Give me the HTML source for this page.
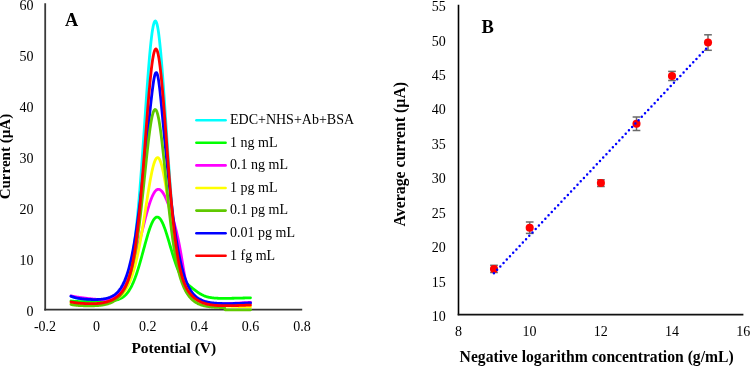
<!DOCTYPE html>
<html><head><meta charset="utf-8"><style>
html,body{margin:0;padding:0;background:#fff;}
svg{display:block;font-family:"Liberation Serif", serif;will-change:transform;}
text{fill:#000;}
</style></head><body>
<svg width="751" height="366" viewBox="0 0 751 366"><rect width="751" height="366" fill="#fff"/><line x1="45.2" y1="3.3" x2="45.2" y2="310.4" stroke="#3a3a3a" stroke-width="1.8"/><line x1="44.3" y1="309.6" x2="302.2" y2="309.6" stroke="#333" stroke-width="1.8"/><text x="33.4" y="316.10" font-size="14" text-anchor="end">0</text><text x="33.4" y="265.00" font-size="14" text-anchor="end">10</text><text x="33.4" y="213.90" font-size="14" text-anchor="end">20</text><text x="33.4" y="162.80" font-size="14" text-anchor="end">30</text><text x="33.4" y="111.70" font-size="14" text-anchor="end">40</text><text x="33.4" y="60.60" font-size="14" text-anchor="end">50</text><text x="33.4" y="9.50" font-size="14" text-anchor="end">60</text><text x="45.00" y="331.4" font-size="14" text-anchor="middle">-0.2</text><text x="96.40" y="331.4" font-size="14" text-anchor="middle">0</text><text x="147.80" y="331.4" font-size="14" text-anchor="middle">0.2</text><text x="199.20" y="331.4" font-size="14" text-anchor="middle">0.4</text><text x="250.60" y="331.4" font-size="14" text-anchor="middle">0.6</text><text x="302.00" y="331.4" font-size="14" text-anchor="middle">0.8</text><text x="131.4" y="352.7" font-size="15.5" font-weight="bold">Potential (V)</text><text transform="translate(10.3,199.3) rotate(-90)" font-size="15" font-weight="bold">Current (µA)</text><text x="64.95" y="25.5" font-size="18.3" font-weight="bold">A</text><polyline points="71.00,296.32 71.50,296.54 72.00,296.73 72.50,296.92 73.00,297.10 73.50,297.26 74.00,297.42 74.50,297.57 75.00,297.70 75.50,297.84 76.00,297.96 76.50,298.08 77.00,298.19 77.50,298.30 78.00,298.40 78.50,298.50 79.00,298.59 79.50,298.68 80.00,298.77 80.50,298.85 81.00,298.93 81.50,299.01 82.00,299.08 82.50,299.15 83.00,299.22 83.50,299.28 84.00,299.35 84.50,299.41 85.00,299.47 85.50,299.53 86.00,299.58 86.50,299.63 87.00,299.69 87.50,299.74 88.00,299.79 88.50,299.83 89.00,299.88 89.50,299.92 90.00,299.96 90.50,300.00 91.00,300.04 91.50,300.08 92.00,300.11 92.50,300.15 93.00,300.18 93.50,300.21 94.00,300.23 94.50,300.26 95.00,300.28 95.50,300.30 96.00,300.32 96.50,300.34 97.00,300.35 97.50,300.36 98.00,300.36 98.50,300.37 99.00,300.37 99.50,300.36 100.00,300.36 100.50,300.35 101.00,300.33 101.50,300.31 102.00,300.28 102.50,300.25 103.00,300.22 103.50,300.18 104.00,300.13 104.50,300.08 105.00,300.02 105.50,299.95 106.00,299.88 106.50,299.79 107.00,299.70 107.50,299.60 108.00,299.50 108.50,299.38 109.00,299.25 109.50,299.11 110.00,298.96 110.50,298.80 111.00,298.63 111.50,298.44 112.00,298.24 112.50,298.03 113.00,297.80 113.50,297.55 114.00,297.29 114.50,297.01 115.00,296.71 115.50,296.39 116.00,296.06 116.50,295.70 117.00,295.31 117.50,294.91 118.00,294.47 118.50,294.01 119.00,293.52 119.50,293.00 120.00,292.44 120.50,291.85 121.00,291.22 121.50,290.55 122.00,289.83 122.50,289.07 123.00,288.26 123.50,287.39 124.00,286.47 124.50,285.48 125.00,284.42 125.50,283.29 126.00,282.08 126.50,280.79 127.00,279.41 127.50,277.93 128.00,276.34 128.50,274.65 129.00,272.83 129.50,270.90 130.00,268.82 130.50,266.60 131.00,264.24 131.50,261.71 132.00,259.02 132.50,256.14 133.00,253.09 133.50,249.84 134.00,246.39 134.50,242.73 135.00,238.87 135.50,234.78 136.00,230.46 136.50,225.92 137.00,221.15 137.50,216.15 138.00,210.92 138.50,205.46 139.00,199.77 139.50,193.86 140.00,187.75 140.50,181.42 141.00,174.91 141.50,168.23 142.00,161.38 142.50,154.40 143.00,147.29 143.50,140.09 144.00,132.82 144.50,125.50 145.00,118.17 145.50,110.87 146.00,103.61 146.50,96.43 147.00,89.38 147.50,82.49 148.00,75.78 148.50,69.31 149.00,63.11 149.50,57.21 150.00,51.65 150.50,46.46 151.00,41.67 151.50,37.32 152.00,33.44 152.50,30.04 153.00,27.16 153.50,24.81 154.00,23.01 154.50,21.76 155.00,21.09 155.50,21.00 156.00,21.48 156.50,22.54 157.00,24.16 157.50,26.35 158.00,29.08 158.50,32.33 159.00,36.09 159.50,40.33 160.00,45.03 160.50,50.16 161.00,55.68 161.50,61.56 162.00,67.77 162.50,74.27 163.00,81.03 163.50,88.00 164.00,95.16 164.50,102.46 165.00,109.86 165.50,117.34 166.00,124.85 166.50,132.37 167.00,139.85 167.50,147.29 168.00,154.63 168.50,161.87 169.00,168.97 169.50,175.92 170.00,182.70 170.50,189.29 171.00,195.67 171.50,201.84 172.00,207.79 172.50,213.51 173.00,218.99 173.50,224.22 174.00,229.22 174.50,233.98 175.00,238.50 175.50,242.78 176.00,246.83 176.50,250.65 177.00,254.25 177.50,257.64 178.00,260.82 178.50,263.80 179.00,266.59 179.50,269.20 180.00,271.64 180.50,273.91 181.00,276.03 181.50,278.01 182.00,279.84 182.50,281.55 183.00,283.14 183.50,284.62 184.00,285.99 184.50,287.26 185.00,288.44 185.50,289.54 186.00,290.56 186.50,291.50 187.00,292.38 187.50,293.20 188.00,293.96 188.50,294.67 189.00,295.33 189.50,295.94 190.00,296.51 190.50,297.04 191.00,297.54 191.50,298.00 192.00,298.43 192.50,298.84 193.00,299.21 193.50,299.56 194.00,299.89 194.50,300.20 195.00,300.49 195.50,300.76 196.00,301.01 196.50,301.25 197.00,301.47 197.50,301.67 198.00,301.86 198.50,302.04 199.00,302.21 199.50,302.37 200.00,302.52 200.50,302.65 201.00,302.78 201.50,302.90 202.00,303.01 202.50,303.11 203.00,303.21 203.50,303.29 204.00,303.38 204.50,303.45 205.00,303.52 205.50,303.59 206.00,303.64 206.50,303.70 207.00,303.75 207.50,303.79 208.00,303.84 208.50,303.87 209.00,303.91 209.50,303.94 210.00,303.97 210.50,303.99 211.00,304.01 211.50,304.03 212.00,304.05 212.50,304.06 213.00,304.08 213.50,304.09 214.00,304.09 214.50,304.10 215.00,304.11 215.50,304.11 216.00,304.11 216.50,304.11 217.00,304.11 217.50,304.11 218.00,304.11 218.50,304.11 219.00,304.10 219.50,304.10 220.00,304.09 220.50,304.08 221.00,304.08 221.50,304.07 222.00,304.06 222.50,304.05 223.00,304.04 223.50,304.03 224.00,304.01 224.50,304.00 225.00,303.99 225.50,303.98 226.00,303.96 226.50,303.95 227.00,303.94 227.50,303.92 228.00,303.91 228.50,303.89 229.00,303.87 229.50,303.86 230.00,303.84 230.50,303.83 231.00,303.81 231.50,303.79 232.00,303.77 232.50,303.76 233.00,303.74 233.50,303.72 234.00,303.70 234.50,303.68 235.00,303.66 235.50,303.64 236.00,303.62 236.50,303.60 237.00,303.58 237.50,303.56 238.00,303.54 238.50,303.52 239.00,303.50 239.50,303.48 240.00,303.46 240.50,303.44 241.00,303.41 241.50,303.39 242.00,303.37 242.50,303.35 243.00,303.32 243.50,303.30 244.00,303.28 244.50,303.25 245.00,303.23 245.50,303.21 246.00,303.18 246.50,303.16 247.00,303.13 247.50,303.11 248.00,303.08 248.50,303.06 249.00,303.03 249.50,303.01 250.00,302.98 250.50,302.95" fill="none" stroke="#00FFFF" stroke-width="2.8" stroke-linejoin="round" stroke-linecap="round"/><polyline points="71.00,300.96 71.50,301.03 72.00,301.09 72.50,301.15 73.00,301.21 73.50,301.25 74.00,301.30 74.50,301.34 75.00,301.37 75.50,301.40 76.00,301.43 76.50,301.46 77.00,301.48 77.50,301.50 78.00,301.52 78.50,301.54 79.00,301.55 79.50,301.56 80.00,301.57 80.50,301.58 81.00,301.59 81.50,301.59 82.00,301.60 82.50,301.60 83.00,301.60 83.50,301.60 84.00,301.60 84.50,301.60 85.00,301.60 85.50,301.60 86.00,301.60 86.50,301.60 87.00,301.59 87.50,301.59 88.00,301.58 88.50,301.58 89.00,301.57 89.50,301.57 90.00,301.56 90.50,301.55 91.00,301.55 91.50,301.54 92.00,301.53 92.50,301.53 93.00,301.52 93.50,301.51 94.00,301.50 94.50,301.49 95.00,301.48 95.50,301.48 96.00,301.47 96.50,301.46 97.00,301.45 97.50,301.44 98.00,301.43 98.50,301.42 99.00,301.41 99.50,301.39 100.00,301.38 100.50,301.37 101.00,301.36 101.50,301.34 102.00,301.33 102.50,301.32 103.00,301.30 103.50,301.29 104.00,301.27 104.50,301.25 105.00,301.23 105.50,301.21 106.00,301.19 106.50,301.17 107.00,301.15 107.50,301.12 108.00,301.09 108.50,301.06 109.00,301.03 109.50,300.99 110.00,300.95 110.50,300.91 111.00,300.86 111.50,300.81 112.00,300.76 112.50,300.70 113.00,300.64 113.50,300.57 114.00,300.49 114.50,300.40 115.00,300.31 115.50,300.21 116.00,300.10 116.50,299.98 117.00,299.86 117.50,299.71 118.00,299.56 118.50,299.39 119.00,299.21 119.50,299.02 120.00,298.80 120.50,298.57 121.00,298.32 121.50,298.05 122.00,297.76 122.50,297.45 123.00,297.11 123.50,296.75 124.00,296.36 124.50,295.94 125.00,295.49 125.50,295.01 126.00,294.50 126.50,293.95 127.00,293.37 127.50,292.75 128.00,292.09 128.50,291.39 129.00,290.65 129.50,289.86 130.00,289.03 130.50,288.16 131.00,287.24 131.50,286.28 132.00,285.27 132.50,284.20 133.00,283.09 133.50,281.93 134.00,280.73 134.50,279.47 135.00,278.16 135.50,276.81 136.00,275.41 136.50,273.96 137.00,272.46 137.50,270.93 138.00,269.35 138.50,267.73 139.00,266.07 139.50,264.38 140.00,262.65 140.50,260.90 141.00,259.12 141.50,257.32 142.00,255.50 142.50,253.66 143.00,251.82 143.50,249.97 144.00,248.12 144.50,246.28 145.00,244.44 145.50,242.63 146.00,240.83 146.50,239.06 147.00,237.32 147.50,235.62 148.00,233.96 148.50,232.35 149.00,230.79 149.50,229.29 150.00,227.86 150.50,226.50 151.00,225.21 151.50,224.01 152.00,222.88 152.50,221.85 153.00,220.91 153.50,220.06 154.00,219.31 154.50,218.67 155.00,218.13 155.50,217.69 156.00,217.37 156.50,217.15 157.00,217.04 157.50,217.05 158.00,217.16 158.50,217.38 159.00,217.71 159.50,218.15 160.00,218.69 160.50,219.33 161.00,220.07 161.50,220.91 162.00,221.84 162.50,222.86 163.00,223.96 163.50,225.14 164.00,226.40 164.50,227.73 165.00,229.12 165.50,230.57 166.00,232.07 166.50,233.62 167.00,235.21 167.50,236.84 168.00,238.49 168.50,240.17 169.00,241.87 169.50,243.58 170.00,245.29 170.50,247.01 171.00,248.72 171.50,250.42 172.00,252.11 172.50,253.78 173.00,255.42 173.50,257.04 174.00,258.62 174.50,260.17 175.00,261.67 175.50,263.14 176.00,264.56 176.50,265.93 177.00,267.25 177.50,268.52 178.00,269.75 178.50,270.91 179.00,272.03 179.50,273.09 180.00,274.10 180.50,275.06 181.00,275.97 181.50,276.82 182.00,277.63 182.50,278.40 183.00,279.12 183.50,279.80 184.00,280.44 184.50,281.05 185.00,281.62 185.50,282.17 186.00,282.69 186.50,283.18 187.00,283.66 187.50,284.12 188.00,284.56 188.50,285.00 189.00,285.42 189.50,285.83 190.00,286.24 190.50,286.65 191.00,287.05 191.50,287.45 192.00,287.84 192.50,288.24 193.00,288.63 193.50,289.03 194.00,289.42 194.50,289.81 195.00,290.19 195.50,290.57 196.00,290.95 196.50,291.32 197.00,291.69 197.50,292.05 198.00,292.40 198.50,292.74 199.00,293.07 199.50,293.39 200.00,293.70 200.50,294.00 201.00,294.29 201.50,294.57 202.00,294.83 202.50,295.08 203.00,295.32 203.50,295.55 204.00,295.76 204.50,295.96 205.00,296.15 205.50,296.33 206.00,296.50 206.50,296.66 207.00,296.80 207.50,296.94 208.00,297.07 208.50,297.19 209.00,297.30 209.50,297.40 210.00,297.49 210.50,297.58 211.00,297.66 211.50,297.73 212.00,297.80 212.50,297.86 213.00,297.92 213.50,297.97 214.00,298.02 214.50,298.06 215.00,298.10 215.50,298.14 216.00,298.17 216.50,298.20 217.00,298.22 217.50,298.24 218.00,298.26 218.50,298.28 219.00,298.30 219.50,298.31 220.00,298.32 220.50,298.33 221.00,298.34 221.50,298.35 222.00,298.35 222.50,298.35 223.00,298.36 223.50,298.36 224.00,298.36 224.50,298.36 225.00,298.36 225.50,298.35 226.00,298.35 226.50,298.35 227.00,298.34 227.50,298.34 228.00,298.33 228.50,298.32 229.00,298.32 229.50,298.31 230.00,298.30 230.50,298.29 231.00,298.29 231.50,298.28 232.00,298.27 232.50,298.26 233.00,298.25 233.50,298.24 234.00,298.23 234.50,298.22 235.00,298.21 235.50,298.20 236.00,298.19 236.50,298.17 237.00,298.16 237.50,298.15 238.00,298.14 238.50,298.13 239.00,298.12 239.50,298.10 240.00,298.09 240.50,298.08 241.00,298.07 241.50,298.05 242.00,298.04 242.50,298.03 243.00,298.02 243.50,298.00 244.00,297.99 244.50,297.98 245.00,297.97 245.50,297.95 246.00,297.94 246.50,297.93 247.00,297.91 247.50,297.90 248.00,297.89 248.50,297.87 249.00,297.86 249.50,297.85 250.00,297.83 250.50,297.82" fill="none" stroke="#00FF00" stroke-width="2.8" stroke-linejoin="round" stroke-linecap="round"/><polyline points="71.00,295.86 71.50,295.98 72.00,296.09 72.50,296.19 73.00,296.29 73.50,296.39 74.00,296.49 74.50,296.58 75.00,296.67 75.50,296.76 76.00,296.85 76.50,296.93 77.00,297.01 77.50,297.09 78.00,297.17 78.50,297.25 79.00,297.32 79.50,297.40 80.00,297.47 80.50,297.54 81.00,297.61 81.50,297.68 82.00,297.75 82.50,297.81 83.00,297.88 83.50,297.94 84.00,298.01 84.50,298.07 85.00,298.13 85.50,298.19 86.00,298.25 86.50,298.31 87.00,298.37 87.50,298.43 88.00,298.49 88.50,298.55 89.00,298.60 89.50,298.66 90.00,298.71 90.50,298.76 91.00,298.82 91.50,298.87 92.00,298.92 92.50,298.97 93.00,299.02 93.50,299.06 94.00,299.11 94.50,299.16 95.00,299.20 95.50,299.24 96.00,299.28 96.50,299.32 97.00,299.36 97.50,299.39 98.00,299.42 98.50,299.45 99.00,299.48 99.50,299.51 100.00,299.53 100.50,299.55 101.00,299.56 101.50,299.58 102.00,299.58 102.50,299.59 103.00,299.59 103.50,299.58 104.00,299.57 104.50,299.56 105.00,299.54 105.50,299.51 106.00,299.47 106.50,299.43 107.00,299.38 107.50,299.32 108.00,299.26 108.50,299.18 109.00,299.09 109.50,299.00 110.00,298.89 110.50,298.77 111.00,298.63 111.50,298.49 112.00,298.32 112.50,298.15 113.00,297.95 113.50,297.74 114.00,297.51 114.50,297.26 115.00,297.00 115.50,296.71 116.00,296.40 116.50,296.06 117.00,295.71 117.50,295.32 118.00,294.91 118.50,294.48 119.00,294.01 119.50,293.52 120.00,292.99 120.50,292.43 121.00,291.84 121.50,291.22 122.00,290.56 122.50,289.87 123.00,289.13 123.50,288.36 124.00,287.55 124.50,286.70 125.00,285.81 125.50,284.88 126.00,283.91 126.50,282.89 127.00,281.83 127.50,280.72 128.00,279.58 128.50,278.38 129.00,277.14 129.50,275.86 130.00,274.53 130.50,273.15 131.00,271.73 131.50,270.27 132.00,268.76 132.50,267.21 133.00,265.62 133.50,263.99 134.00,262.32 134.50,260.60 135.00,258.85 135.50,257.07 136.00,255.25 136.50,253.40 137.00,251.52 137.50,249.61 138.00,247.68 138.50,245.72 139.00,243.74 139.50,241.75 140.00,239.74 140.50,237.73 141.00,235.70 141.50,233.67 142.00,231.64 142.50,229.62 143.00,227.60 143.50,225.59 144.00,223.60 144.50,221.62 145.00,219.67 145.50,217.74 146.00,215.85 146.50,213.99 147.00,212.17 147.50,210.39 148.00,208.66 148.50,206.99 149.00,205.36 149.50,203.80 150.00,202.30 150.50,200.86 151.00,199.50 151.50,198.21 152.00,196.99 152.50,195.86 153.00,194.80 153.50,193.84 154.00,192.96 154.50,192.17 155.00,191.47 155.50,190.87 156.00,190.36 156.50,189.95 157.00,189.64 157.50,189.43 158.00,189.32 158.50,189.31 159.00,189.38 159.50,189.54 160.00,189.78 160.50,190.10 161.00,190.50 161.50,190.98 162.00,191.54 162.50,192.17 163.00,192.88 163.50,193.66 164.00,194.51 164.50,195.43 165.00,196.42 165.50,197.47 166.00,198.58 166.50,199.74 167.00,200.96 167.50,202.23 168.00,203.55 168.50,204.92 169.00,206.32 169.50,207.77 170.00,209.26 170.50,210.79 171.00,212.35 171.50,213.94 172.00,215.57 172.50,217.23 173.00,218.92 173.50,220.65 174.00,222.41 174.50,224.22 175.00,226.07 175.50,227.97 176.00,229.93 176.50,231.95 177.00,234.04 177.50,236.20 178.00,238.45 178.50,240.79 179.00,243.24 179.50,245.78 180.00,248.43 180.50,251.18 181.00,254.03 181.50,256.96 182.00,259.95 182.50,262.98 183.00,266.02 183.50,269.02 184.00,271.96 184.50,274.77 185.00,277.43 185.50,279.90 186.00,282.15 186.50,284.16 187.00,285.94 187.50,287.48 188.00,288.83 188.50,289.99 189.00,291.00 189.50,291.91 190.00,292.72 190.50,293.46 191.00,294.15 191.50,294.80 192.00,295.41 192.50,295.99 193.00,296.54 193.50,297.06 194.00,297.55 194.50,298.01 195.00,298.45 195.50,298.86 196.00,299.25 196.50,299.61 197.00,299.95 197.50,300.27 198.00,300.57 198.50,300.85 199.00,301.11 199.50,301.36 200.00,301.58 200.50,301.79 201.00,301.99 201.50,302.17 202.00,302.34 202.50,302.49 203.00,302.63 203.50,302.77 204.00,302.89 204.50,303.00 205.00,303.10 205.50,303.19 206.00,303.27 206.50,303.35 207.00,303.42 207.50,303.48 208.00,303.54 208.50,303.59 209.00,303.63 209.50,303.67 210.00,303.71 210.50,303.74 211.00,303.77 211.50,303.79 212.00,303.81 212.50,303.83 213.00,303.84 213.50,303.85 214.00,303.86 214.50,303.86 215.00,303.87 215.50,303.87 216.00,303.87 216.50,303.87 217.00,303.87 217.50,303.86 218.00,303.86 218.50,303.85 219.00,303.84 219.50,303.83 220.00,303.82 220.50,303.81 221.00,303.80 221.50,303.79 222.00,303.77 222.50,303.76 223.00,303.74 223.50,303.73 224.00,303.71 224.50,303.70 225.00,303.68 225.50,303.66 226.00,303.64 226.50,303.62 227.00,303.61 227.50,303.59 228.00,303.57 228.50,303.55 229.00,303.53 229.50,303.51 230.00,303.48 230.50,303.46 231.00,303.44 231.50,303.42 232.00,303.40 232.50,303.37 233.00,303.35 233.50,303.33 234.00,303.30 234.50,303.28 235.00,303.26 235.50,303.23 236.00,303.21 236.50,303.18 237.00,303.16 237.50,303.13 238.00,303.11 238.50,303.08 239.00,303.05 239.50,303.03 240.00,303.00 240.50,302.97 241.00,302.94 241.50,302.92 242.00,302.89 242.50,302.86 243.00,302.83 243.50,302.80 244.00,302.77 244.50,302.74 245.00,302.71 245.50,302.68 246.00,302.65 246.50,302.62 247.00,302.59 247.50,302.56 248.00,302.53 248.50,302.50 249.00,302.46 249.50,302.43 250.00,302.40 250.50,302.37" fill="none" stroke="#FF00FF" stroke-width="2.8" stroke-linejoin="round" stroke-linecap="round"/><polyline points="71.00,303.21 71.50,303.33 72.00,303.43 72.50,303.53 73.00,303.62 73.50,303.69 74.00,303.77 74.50,303.83 75.00,303.89 75.50,303.95 76.00,304.00 76.50,304.04 77.00,304.08 77.50,304.12 78.00,304.15 78.50,304.18 79.00,304.21 79.50,304.23 80.00,304.25 80.50,304.27 81.00,304.28 81.50,304.29 82.00,304.31 82.50,304.31 83.00,304.32 83.50,304.32 84.00,304.33 84.50,304.33 85.00,304.33 85.50,304.33 86.00,304.32 86.50,304.32 87.00,304.31 87.50,304.30 88.00,304.29 88.50,304.28 89.00,304.27 89.50,304.26 90.00,304.24 90.50,304.23 91.00,304.21 91.50,304.19 92.00,304.17 92.50,304.15 93.00,304.13 93.50,304.10 94.00,304.08 94.50,304.05 95.00,304.02 95.50,303.99 96.00,303.96 96.50,303.92 97.00,303.89 97.50,303.85 98.00,303.81 98.50,303.77 99.00,303.72 99.50,303.67 100.00,303.62 100.50,303.57 101.00,303.52 101.50,303.46 102.00,303.40 102.50,303.33 103.00,303.26 103.50,303.19 104.00,303.11 104.50,303.03 105.00,302.95 105.50,302.86 106.00,302.77 106.50,302.67 107.00,302.57 107.50,302.46 108.00,302.34 108.50,302.22 109.00,302.09 109.50,301.96 110.00,301.81 110.50,301.66 111.00,301.50 111.50,301.34 112.00,301.16 112.50,300.97 113.00,300.78 113.50,300.57 114.00,300.35 114.50,300.12 115.00,299.88 115.50,299.62 116.00,299.35 116.50,299.06 117.00,298.76 117.50,298.44 118.00,298.10 118.50,297.74 119.00,297.37 119.50,296.97 120.00,296.55 120.50,296.11 121.00,295.64 121.50,295.15 122.00,294.63 122.50,294.08 123.00,293.50 123.50,292.89 124.00,292.25 124.50,291.57 125.00,290.86 125.50,290.10 126.00,289.31 126.50,288.48 127.00,287.60 127.50,286.67 128.00,285.70 128.50,284.67 129.00,283.60 129.50,282.47 130.00,281.28 130.50,280.03 131.00,278.72 131.50,277.35 132.00,275.92 132.50,274.41 133.00,272.84 133.50,271.20 134.00,269.48 134.50,267.69 135.00,265.82 135.50,263.87 136.00,261.85 136.50,259.74 137.00,257.56 137.50,255.29 138.00,252.94 138.50,250.52 139.00,248.01 139.50,245.42 140.00,242.76 140.50,240.02 141.00,237.22 141.50,234.34 142.00,231.40 142.50,228.40 143.00,225.35 143.50,222.25 144.00,219.11 144.50,215.93 145.00,212.73 145.50,209.51 146.00,206.29 146.50,203.07 147.00,199.86 147.50,196.68 148.00,193.54 148.50,190.44 149.00,187.41 149.50,184.46 150.00,181.59 150.50,178.83 151.00,176.18 151.50,173.67 152.00,171.29 152.50,169.07 153.00,167.02 153.50,165.14 154.00,163.46 154.50,161.97 155.00,160.68 155.50,159.62 156.00,158.77 156.50,158.15 157.00,157.76 157.50,157.60 158.00,157.68 158.50,158.00 159.00,158.56 159.50,159.35 160.00,160.37 160.50,161.62 161.00,163.08 161.50,164.75 162.00,166.62 162.50,168.68 163.00,170.91 163.50,173.31 164.00,175.86 164.50,178.55 165.00,181.37 165.50,184.29 166.00,187.31 166.50,190.42 167.00,193.59 167.50,196.82 168.00,200.09 168.50,203.39 169.00,206.71 169.50,210.04 170.00,213.36 170.50,216.66 171.00,219.94 171.50,223.19 172.00,226.39 172.50,229.55 173.00,232.65 173.50,235.69 174.00,238.66 174.50,241.56 175.00,244.38 175.50,247.13 176.00,249.79 176.50,252.37 177.00,254.87 177.50,257.29 178.00,259.61 178.50,261.85 179.00,264.01 179.50,266.08 180.00,268.07 180.50,269.98 181.00,271.80 181.50,273.55 182.00,275.21 182.50,276.81 183.00,278.33 183.50,279.77 184.00,281.15 184.50,282.47 185.00,283.72 185.50,284.90 186.00,286.03 186.50,287.10 187.00,288.12 187.50,289.08 188.00,289.99 188.50,290.86 189.00,291.68 189.50,292.46 190.00,293.19 190.50,293.89 191.00,294.54 191.50,295.17 192.00,295.76 192.50,296.31 193.00,296.84 193.50,297.34 194.00,297.81 194.50,298.25 195.00,298.67 195.50,299.07 196.00,299.44 196.50,299.80 197.00,300.13 197.50,300.45 198.00,300.75 198.50,301.03 199.00,301.30 199.50,301.55 200.00,301.79 200.50,302.02 201.00,302.23 201.50,302.43 202.00,302.62 202.50,302.80 203.00,302.97 203.50,303.14 204.00,303.29 204.50,303.44 205.00,303.57 205.50,303.70 206.00,303.83 206.50,303.95 207.00,304.06 207.50,304.16 208.00,304.26 208.50,304.36 209.00,304.45 209.50,304.54 210.00,304.62 210.50,304.70 211.00,304.77 211.50,304.84 212.00,304.91 212.50,304.98 213.00,305.04 213.50,305.10 214.00,305.15 214.50,305.21 215.00,305.26 215.50,305.31 216.00,305.36 216.50,305.40 217.00,305.44 217.50,305.49 218.00,305.53 218.50,305.57 219.00,305.60 219.50,305.64 220.00,305.67 220.50,305.71 221.00,305.74 221.50,305.77 222.00,305.80 222.50,305.83 223.00,305.86 223.50,305.89 224.00,305.91 224.50,305.94 225.00,305.96 225.50,305.99 226.00,306.01 226.50,306.04 227.00,306.06 227.50,306.08 228.00,306.10 228.50,306.12 229.00,306.15 229.50,306.17 230.00,306.19 230.50,306.21 231.00,306.22 231.50,306.24 232.00,306.26 232.50,306.28 233.00,306.30 233.50,306.32 234.00,306.33 234.50,306.35 235.00,306.37 235.50,306.39 236.00,306.40 236.50,306.42 237.00,306.43 237.50,306.45 238.00,306.47 238.50,306.48 239.00,306.50 239.50,306.51 240.00,306.53 240.50,306.55 241.00,306.56 241.50,306.58 242.00,306.59 242.50,306.61 243.00,306.62 243.50,306.64 244.00,306.65 244.50,306.67 245.00,306.68 245.50,306.69 246.00,306.71 246.50,306.72 247.00,306.74 247.50,306.75 248.00,306.77 248.50,306.78 249.00,306.80 249.50,306.81 250.00,306.82 250.50,306.84" fill="none" stroke="#FFFF00" stroke-width="2.8" stroke-linejoin="round" stroke-linecap="round"/><polyline points="71.00,296.20 71.50,296.41 72.00,296.60 72.50,296.78 73.00,296.95 73.50,297.11 74.00,297.26 74.50,297.40 75.00,297.54 75.50,297.66 76.00,297.78 76.50,297.89 77.00,298.00 77.50,298.10 78.00,298.19 78.50,298.28 79.00,298.37 79.50,298.45 80.00,298.52 80.50,298.60 81.00,298.67 81.50,298.73 82.00,298.79 82.50,298.85 83.00,298.91 83.50,298.96 84.00,299.02 84.50,299.06 85.00,299.11 85.50,299.15 86.00,299.20 86.50,299.23 87.00,299.27 87.50,299.31 88.00,299.34 88.50,299.37 89.00,299.40 89.50,299.42 90.00,299.45 90.50,299.47 91.00,299.49 91.50,299.51 92.00,299.52 92.50,299.53 93.00,299.54 93.50,299.55 94.00,299.55 94.50,299.56 95.00,299.56 95.50,299.55 96.00,299.55 96.50,299.54 97.00,299.52 97.50,299.51 98.00,299.49 98.50,299.46 99.00,299.44 99.50,299.40 100.00,299.37 100.50,299.33 101.00,299.28 101.50,299.23 102.00,299.18 102.50,299.12 103.00,299.05 103.50,298.97 104.00,298.89 104.50,298.81 105.00,298.71 105.50,298.61 106.00,298.50 106.50,298.38 107.00,298.26 107.50,298.12 108.00,297.97 108.50,297.81 109.00,297.64 109.50,297.46 110.00,297.27 110.50,297.06 111.00,296.84 111.50,296.60 112.00,296.35 112.50,296.08 113.00,295.79 113.50,295.48 114.00,295.16 114.50,294.81 115.00,294.44 115.50,294.05 116.00,293.63 116.50,293.18 117.00,292.71 117.50,292.21 118.00,291.68 118.50,291.11 119.00,290.51 119.50,289.88 120.00,289.20 120.50,288.49 121.00,287.73 121.50,286.93 122.00,286.09 122.50,285.19 123.00,284.24 123.50,283.24 124.00,282.18 124.50,281.06 125.00,279.87 125.50,278.63 126.00,277.31 126.50,275.92 127.00,274.46 127.50,272.92 128.00,271.30 128.50,269.60 129.00,267.81 129.50,265.93 130.00,263.96 130.50,261.89 131.00,259.72 131.50,257.45 132.00,255.08 132.50,252.61 133.00,250.02 133.50,247.32 134.00,244.51 134.50,241.59 135.00,238.56 135.50,235.41 136.00,232.14 136.50,228.77 137.00,225.28 137.50,221.68 138.00,217.97 138.50,214.16 139.00,210.24 139.50,206.23 140.00,202.13 140.50,197.94 141.00,193.68 141.50,189.34 142.00,184.94 142.50,180.48 143.00,175.98 143.50,171.43 144.00,166.85 144.50,162.25 145.00,157.62 145.50,152.97 146.00,148.32 146.50,143.65 147.00,138.97 147.50,134.28 148.00,129.59 148.50,124.89 149.00,120.19 149.50,115.50 150.00,110.84 150.50,106.22 151.00,101.68 151.50,97.26 152.00,93.00 152.50,88.96 153.00,85.20 153.50,81.80 154.00,78.83 154.50,76.36 155.00,74.45 155.50,73.16 156.00,72.54 156.50,72.62 157.00,73.41 157.50,74.89 158.00,77.05 158.50,79.84 159.00,83.21 159.50,87.08 160.00,91.38 160.50,96.03 161.00,100.96 161.50,106.09 162.00,111.35 162.50,116.70 163.00,122.07 163.50,127.45 164.00,132.78 164.50,138.07 165.00,143.29 165.50,148.44 166.00,153.51 166.50,158.51 167.00,163.43 167.50,168.27 168.00,173.04 168.50,177.74 169.00,182.36 169.50,186.91 170.00,191.38 170.50,195.77 171.00,200.07 171.50,204.28 172.00,208.40 172.50,212.42 173.00,216.35 173.50,220.16 174.00,223.87 174.50,227.47 175.00,230.96 175.50,234.33 176.00,237.59 176.50,240.74 177.00,243.77 177.50,246.69 178.00,249.49 178.50,252.19 179.00,254.77 179.50,257.25 180.00,259.62 180.50,261.88 181.00,264.05 181.50,266.12 182.00,268.09 182.50,269.98 183.00,271.77 183.50,273.48 184.00,275.10 184.50,276.65 185.00,278.12 185.50,279.52 186.00,280.84 186.50,282.10 187.00,283.29 187.50,284.42 188.00,285.50 188.50,286.51 189.00,287.48 189.50,288.39 190.00,289.25 190.50,290.07 191.00,290.84 191.50,291.58 192.00,292.27 192.50,292.92 193.00,293.54 193.50,294.13 194.00,294.68 194.50,295.20 195.00,295.70 195.50,296.16 196.00,296.60 196.50,297.02 197.00,297.41 197.50,297.78 198.00,298.14 198.50,298.47 199.00,298.78 199.50,299.07 200.00,299.35 200.50,299.62 201.00,299.86 201.50,300.10 202.00,300.32 202.50,300.53 203.00,300.72 203.50,300.91 204.00,301.09 204.50,301.25 205.00,301.41 205.50,301.55 206.00,301.69 206.50,301.82 207.00,301.94 207.50,302.06 208.00,302.17 208.50,302.27 209.00,302.37 209.50,302.46 210.00,302.54 210.50,302.62 211.00,302.70 211.50,302.77 212.00,302.84 212.50,302.90 213.00,302.96 213.50,303.01 214.00,303.06 214.50,303.11 215.00,303.15 215.50,303.20 216.00,303.23 216.50,303.27 217.00,303.30 217.50,303.33 218.00,303.36 218.50,303.39 219.00,303.41 219.50,303.43 220.00,303.45 220.50,303.47 221.00,303.49 221.50,303.50 222.00,303.52 222.50,303.53 223.00,303.54 223.50,303.55 224.00,303.56 224.50,303.56 225.00,303.57 225.50,303.57 226.00,303.57 226.50,303.58 227.00,303.58 227.50,303.58 228.00,303.57 228.50,303.57 229.00,303.57 229.50,303.57 230.00,303.56 230.50,303.56 231.00,303.55 231.50,303.54 232.00,303.53 232.50,303.53 233.00,303.52 233.50,303.51 234.00,303.50 234.50,303.49 235.00,303.47 235.50,303.46 236.00,303.45 236.50,303.44 237.00,303.42 237.50,303.41 238.00,303.39 238.50,303.38 239.00,303.36 239.50,303.35 240.00,303.33 240.50,303.31 241.00,303.30 241.50,303.28 242.00,303.26 242.50,303.24 243.00,303.22 243.50,303.20 244.00,303.18 244.50,303.16 245.00,303.14 245.50,303.12 246.00,303.10 246.50,303.08 247.00,303.06 247.50,303.03 248.00,303.01 248.50,302.99 249.00,302.97 249.50,302.94 250.00,302.92 250.50,302.89" fill="none" stroke="#0000FF" stroke-width="2.8" stroke-linejoin="round" stroke-linecap="round"/><polyline points="71.00,304.44 71.50,304.56 72.00,304.66 72.50,304.76 73.00,304.84 73.50,304.93 74.00,305.00 74.50,305.07 75.00,305.14 75.50,305.20 76.00,305.26 76.50,305.31 77.00,305.36 77.50,305.40 78.00,305.44 78.50,305.48 79.00,305.52 79.50,305.55 80.00,305.58 80.50,305.61 81.00,305.63 81.50,305.66 82.00,305.68 82.50,305.70 83.00,305.72 83.50,305.74 84.00,305.75 84.50,305.77 85.00,305.78 85.50,305.79 86.00,305.80 86.50,305.81 87.00,305.82 87.50,305.82 88.00,305.82 88.50,305.83 89.00,305.83 89.50,305.83 90.00,305.83 90.50,305.83 91.00,305.82 91.50,305.81 92.00,305.81 92.50,305.80 93.00,305.79 93.50,305.77 94.00,305.76 94.50,305.74 95.00,305.72 95.50,305.70 96.00,305.68 96.50,305.65 97.00,305.62 97.50,305.59 98.00,305.55 98.50,305.51 99.00,305.47 99.50,305.43 100.00,305.38 100.50,305.32 101.00,305.27 101.50,305.20 102.00,305.14 102.50,305.06 103.00,304.99 103.50,304.90 104.00,304.81 104.50,304.72 105.00,304.61 105.50,304.50 106.00,304.39 106.50,304.26 107.00,304.13 107.50,303.98 108.00,303.83 108.50,303.67 109.00,303.50 109.50,303.31 110.00,303.12 110.50,302.91 111.00,302.69 111.50,302.46 112.00,302.21 112.50,301.95 113.00,301.68 113.50,301.39 114.00,301.08 114.50,300.75 115.00,300.41 115.50,300.05 116.00,299.66 116.50,299.26 117.00,298.84 117.50,298.39 118.00,297.91 118.50,297.42 119.00,296.89 119.50,296.34 120.00,295.76 120.50,295.16 121.00,294.51 121.50,293.84 122.00,293.13 122.50,292.39 123.00,291.60 123.50,290.78 124.00,289.91 124.50,289.00 125.00,288.04 125.50,287.03 126.00,285.96 126.50,284.84 127.00,283.66 127.50,282.42 128.00,281.11 128.50,279.73 129.00,278.27 129.50,276.74 130.00,275.12 130.50,273.42 131.00,271.62 131.50,269.72 132.00,267.73 132.50,265.62 133.00,263.41 133.50,261.08 134.00,258.62 134.50,256.05 135.00,253.34 135.50,250.50 136.00,247.52 136.50,244.41 137.00,241.15 137.50,237.76 138.00,234.22 138.50,230.54 139.00,226.72 139.50,222.77 140.00,218.68 140.50,214.47 141.00,210.14 141.50,205.70 142.00,201.16 142.50,196.53 143.00,191.83 143.50,187.06 144.00,182.26 144.50,177.42 145.00,172.59 145.50,167.76 146.00,162.98 146.50,158.25 147.00,153.60 147.50,149.06 148.00,144.65 148.50,140.40 149.00,136.33 149.50,132.47 150.00,128.84 150.50,125.45 151.00,122.35 151.50,119.54 152.00,117.04 152.50,114.88 153.00,113.06 153.50,111.61 154.00,110.52 154.50,109.81 155.00,109.49 155.50,109.56 156.00,110.01 156.50,110.84 157.00,112.06 157.50,113.64 158.00,115.59 158.50,117.88 159.00,120.50 159.50,123.44 160.00,126.67 160.50,130.18 161.00,133.94 161.50,137.92 162.00,142.11 162.50,146.48 163.00,151.01 163.50,155.66 164.00,160.42 164.50,165.26 165.00,170.15 165.50,175.07 166.00,180.01 166.50,184.93 167.00,189.83 167.50,194.68 168.00,199.46 168.50,204.16 169.00,208.77 169.50,213.27 170.00,217.66 170.50,221.93 171.00,226.06 171.50,230.05 172.00,233.91 172.50,237.61 173.00,241.18 173.50,244.59 174.00,247.86 174.50,250.98 175.00,253.95 175.50,256.79 176.00,259.49 176.50,262.05 177.00,264.48 177.50,266.79 178.00,268.98 178.50,271.06 179.00,273.02 179.50,274.88 180.00,276.63 180.50,278.30 181.00,279.87 181.50,281.36 182.00,282.76 182.50,284.10 183.00,285.35 183.50,286.55 184.00,287.67 184.50,288.74 185.00,289.75 185.50,290.71 186.00,291.62 186.50,292.48 187.00,293.29 187.50,294.07 188.00,294.80 188.50,295.50 189.00,296.16 189.50,296.78 190.00,297.38 190.50,297.94 191.00,298.48 191.50,298.98 192.00,299.47 192.50,299.92 193.00,300.36 193.50,300.77 194.00,301.16 194.50,301.53 195.00,301.88 195.50,302.21 196.00,302.53 196.50,302.83 197.00,303.11 197.50,303.38 198.00,303.63 198.50,303.87 199.00,304.10 199.50,304.31 200.00,304.52 200.50,304.71 201.00,304.89 201.50,305.06 202.00,305.22 202.50,305.37 203.00,305.51 203.50,305.65 204.00,305.77 204.50,305.89 205.00,306.01 205.50,306.11 206.00,306.21 206.50,306.31 207.00,306.39 207.50,306.48 208.00,306.56 208.50,306.63 209.00,306.70 209.50,306.76 210.00,306.82 210.50,306.88 211.00,306.94 211.50,306.99 212.00,307.03 212.50,307.08 213.00,307.12 213.50,307.16 214.00,307.20 214.50,307.23 215.00,307.26 215.50,307.30 216.00,307.32 216.50,307.35 217.00,307.38 217.50,307.40 218.00,307.42 218.50,307.45 219.00,307.47 219.50,307.49 220.00,307.50 220.50,307.52 221.00,307.54 221.50,307.55 222.00,307.57 222.50,307.58 223.00,307.59 223.50,307.60 224.00,307.62 224.50,307.63 225.2,309.8 250.6,309.8" fill="none" stroke="#60C800" stroke-width="2.8" stroke-linejoin="round" stroke-linecap="round"/><polyline points="71.00,301.93 71.50,302.04 72.00,302.14 72.50,302.24 73.00,302.33 73.50,302.42 74.00,302.50 74.50,302.58 75.00,302.65 75.50,302.72 76.00,302.79 76.50,302.85 77.00,302.91 77.50,302.97 78.00,303.02 78.50,303.07 79.00,303.12 79.50,303.17 80.00,303.21 80.50,303.25 81.00,303.29 81.50,303.33 82.00,303.36 82.50,303.40 83.00,303.43 83.50,303.46 84.00,303.49 84.50,303.51 85.00,303.54 85.50,303.56 86.00,303.58 86.50,303.60 87.00,303.62 87.50,303.64 88.00,303.65 88.50,303.66 89.00,303.67 89.50,303.68 90.00,303.69 90.50,303.69 91.00,303.69 91.50,303.69 92.00,303.69 92.50,303.69 93.00,303.68 93.50,303.67 94.00,303.66 94.50,303.64 95.00,303.62 95.50,303.60 96.00,303.57 96.50,303.55 97.00,303.51 97.50,303.48 98.00,303.44 98.50,303.39 99.00,303.35 99.50,303.29 100.00,303.24 100.50,303.18 101.00,303.11 101.50,303.04 102.00,302.96 102.50,302.88 103.00,302.79 103.50,302.70 104.00,302.60 104.50,302.49 105.00,302.38 105.50,302.26 106.00,302.13 106.50,301.99 107.00,301.85 107.50,301.70 108.00,301.54 108.50,301.37 109.00,301.19 109.50,301.01 110.00,300.81 110.50,300.61 111.00,300.39 111.50,300.17 112.00,299.93 112.50,299.68 113.00,299.42 113.50,299.15 114.00,298.86 114.50,298.56 115.00,298.25 115.50,297.92 116.00,297.57 116.50,297.21 117.00,296.84 117.50,296.44 118.00,296.02 118.50,295.59 119.00,295.13 119.50,294.65 120.00,294.14 120.50,293.61 121.00,293.05 121.50,292.46 122.00,291.84 122.50,291.18 123.00,290.48 123.50,289.74 124.00,288.95 124.50,288.12 125.00,287.23 125.50,286.28 126.00,285.28 126.50,284.21 127.00,283.06 127.50,281.84 128.00,280.53 128.50,279.14 129.00,277.64 129.50,276.05 130.00,274.34 130.50,272.51 131.00,270.56 131.50,268.47 132.00,266.24 132.50,263.86 133.00,261.32 133.50,258.62 134.00,255.74 134.50,252.69 135.00,249.44 135.50,246.00 136.00,242.37 136.50,238.53 137.00,234.48 137.50,230.22 138.00,225.75 138.50,221.07 139.00,216.18 139.50,211.08 140.00,205.78 140.50,200.29 141.00,194.61 141.50,188.75 142.00,182.73 142.50,176.56 143.00,170.26 143.50,163.85 144.00,157.34 144.50,150.77 145.00,144.15 145.50,137.52 146.00,130.90 146.50,124.32 147.00,117.82 147.50,111.42 148.00,105.16 148.50,99.07 149.00,93.19 149.50,87.55 150.00,82.18 150.50,77.11 151.00,72.38 151.50,68.02 152.00,64.05 152.50,60.49 153.00,57.38 153.50,54.73 154.00,52.57 154.50,50.89 155.00,49.73 155.50,49.08 156.00,48.95 156.50,49.34 157.00,50.24 157.50,51.66 158.00,53.59 158.50,56.00 159.00,58.88 159.50,62.22 160.00,65.99 160.50,70.17 161.00,74.73 161.50,79.64 162.00,84.87 162.50,90.40 163.00,96.18 163.50,102.19 164.00,108.39 164.50,114.74 165.00,121.22 165.50,127.79 166.00,134.42 166.50,141.08 167.00,147.74 167.50,154.37 168.00,160.94 168.50,167.44 169.00,173.83 169.50,180.11 170.00,186.24 170.50,192.22 171.00,198.03 171.50,203.65 172.00,209.09 172.50,214.32 173.00,219.35 173.50,224.17 174.00,228.78 174.50,233.18 175.00,237.37 175.50,241.34 176.00,245.11 176.50,248.68 177.00,252.05 177.50,255.23 178.00,258.22 178.50,261.04 179.00,263.68 179.50,266.16 180.00,268.49 180.50,270.66 181.00,272.70 181.50,274.61 182.00,276.40 182.50,278.06 183.00,279.62 183.50,281.08 184.00,282.45 184.50,283.72 185.00,284.92 185.50,286.04 186.00,287.09 186.50,288.07 187.00,289.00 187.50,289.87 188.00,290.68 188.50,291.45 189.00,292.18 189.50,292.87 190.00,293.52 190.50,294.13 191.00,294.71 191.50,295.27 192.00,295.79 192.50,296.29 193.00,296.77 193.50,297.22 194.00,297.65 194.50,298.06 195.00,298.45 195.50,298.83 196.00,299.19 196.50,299.53 197.00,299.86 197.50,300.17 198.00,300.47 198.50,300.76 199.00,301.03 199.50,301.29 200.00,301.54 200.50,301.78 201.00,302.01 201.50,302.23 202.00,302.43 202.50,302.63 203.00,302.82 203.50,303.00 204.00,303.17 204.50,303.34 205.00,303.49 205.50,303.64 206.00,303.78 206.50,303.91 207.00,304.04 207.50,304.16 208.00,304.28 208.50,304.38 209.00,304.48 209.50,304.58 210.00,304.67 210.50,304.76 211.00,304.84 211.50,304.91 212.00,304.98 212.50,305.05 213.00,305.11 213.50,305.17 214.00,305.22 214.50,305.27 215.00,305.32 215.50,305.36 216.00,305.40 216.50,305.44 217.00,305.48 217.50,305.51 218.00,305.54 218.50,305.56 219.00,305.58 219.50,305.61 220.00,305.63 220.50,305.64 221.00,305.66 221.50,305.67 222.00,305.68 222.50,305.69 223.00,305.70 223.50,305.71 224.00,305.71 224.50,305.72 225.00,305.72 225.50,305.72 226.00,305.72 226.50,305.72 227.00,305.72 227.50,305.72 228.00,305.71 228.50,305.71 229.00,305.70 229.50,305.70 230.00,305.69 230.50,305.68 231.00,305.67 231.50,305.66 232.00,305.65 232.50,305.64 233.00,305.63 233.50,305.62 234.00,305.61 234.50,305.60 235.00,305.58 235.50,305.57 236.00,305.56 236.50,305.54 237.00,305.53 237.50,305.51 238.00,305.50 238.50,305.48 239.00,305.47 239.50,305.45 240.00,305.44 240.50,305.42 241.00,305.40 241.50,305.38 242.00,305.37 242.50,305.35 243.00,305.33 243.50,305.31 244.00,305.30 244.50,305.28 245.00,305.26 245.50,305.24 246.00,305.22 246.50,305.20 247.00,305.18 247.50,305.16 248.00,305.14 248.50,305.12 249.00,305.10 249.50,305.08 250.00,305.06 250.50,305.04" fill="none" stroke="#FF0000" stroke-width="2.8" stroke-linejoin="round" stroke-linecap="round"/><line x1="196.4" y1="120.20" x2="225.6" y2="120.20" stroke="#00FFFF" stroke-width="2.6" stroke-linecap="round"/><text x="230" y="124.00" font-size="14">EDC+NHS+Ab+BSA</text><line x1="196.4" y1="142.80" x2="225.6" y2="142.80" stroke="#00FF00" stroke-width="2.6" stroke-linecap="round"/><text x="230" y="146.60" font-size="14">1 ng mL</text><line x1="196.4" y1="165.40" x2="225.6" y2="165.40" stroke="#FF00FF" stroke-width="2.6" stroke-linecap="round"/><text x="230" y="169.20" font-size="14">0.1 ng mL</text><line x1="196.4" y1="188.00" x2="225.6" y2="188.00" stroke="#FFFF00" stroke-width="2.6" stroke-linecap="round"/><text x="230" y="191.80" font-size="14">1 pg mL</text><line x1="196.4" y1="210.60" x2="225.6" y2="210.60" stroke="#60C800" stroke-width="2.6" stroke-linecap="round"/><text x="230" y="214.40" font-size="14">0.1 pg mL</text><line x1="196.4" y1="233.20" x2="225.6" y2="233.20" stroke="#0000FF" stroke-width="2.6" stroke-linecap="round"/><text x="230" y="237.00" font-size="14">0.01 pg mL</text><line x1="196.4" y1="255.80" x2="225.6" y2="255.80" stroke="#FF0000" stroke-width="2.6" stroke-linecap="round"/><text x="230" y="259.60" font-size="14">1 fg mL</text><line x1="458.5" y1="4.7" x2="458.5" y2="315.3" stroke="#000" stroke-width="1.6"/><line x1="457.7" y1="314.6" x2="743.4" y2="314.6" stroke="#111" stroke-width="1.6"/><text x="445.8" y="321.00" font-size="14" text-anchor="end">10</text><text x="445.8" y="286.58" font-size="14" text-anchor="end">15</text><text x="445.8" y="252.16" font-size="14" text-anchor="end">20</text><text x="445.8" y="217.74" font-size="14" text-anchor="end">25</text><text x="445.8" y="183.32" font-size="14" text-anchor="end">30</text><text x="445.8" y="148.90" font-size="14" text-anchor="end">35</text><text x="445.8" y="114.48" font-size="14" text-anchor="end">40</text><text x="445.8" y="80.06" font-size="14" text-anchor="end">45</text><text x="445.8" y="45.64" font-size="14" text-anchor="end">50</text><text x="445.8" y="11.22" font-size="14" text-anchor="end">55</text><text x="458.40" y="335.9" font-size="14" text-anchor="middle">8</text><text x="529.60" y="335.9" font-size="14" text-anchor="middle">10</text><text x="600.80" y="335.9" font-size="14" text-anchor="middle">12</text><text x="672.00" y="335.9" font-size="14" text-anchor="middle">14</text><text x="743.20" y="335.9" font-size="14" text-anchor="middle">16</text><text x="459.6" y="362.4" font-size="15.65" font-weight="bold">Negative logarithm concentration (g/mL)</text><text transform="translate(404.5,226.4) rotate(-90)" font-size="15.8" font-weight="bold">Average current (µA)</text><text x="481.6" y="33.0" font-size="18.5" font-weight="bold">B</text><g stroke="#6a6a6a" stroke-width="1.5"><line x1="494" y1="265.3" x2="494" y2="272.5"/><line x1="490.15" y1="265.3" x2="497.85" y2="265.3"/><line x1="490.15" y1="272.5" x2="497.85" y2="272.5"/></g><g stroke="#6a6a6a" stroke-width="1.5"><line x1="529.7" y1="222" x2="529.7" y2="233.4"/><line x1="525.85" y1="222" x2="533.5500000000001" y2="222"/><line x1="525.85" y1="233.4" x2="533.5500000000001" y2="233.4"/></g><g stroke="#6a6a6a" stroke-width="1.5"><line x1="600.9" y1="179.8" x2="600.9" y2="186.5"/><line x1="597.05" y1="179.8" x2="604.75" y2="179.8"/><line x1="597.05" y1="186.5" x2="604.75" y2="186.5"/></g><g stroke="#6a6a6a" stroke-width="1.5"><line x1="636.5" y1="117" x2="636.5" y2="130.5"/><line x1="632.65" y1="117" x2="640.35" y2="117"/><line x1="632.65" y1="130.5" x2="640.35" y2="130.5"/></g><g stroke="#6a6a6a" stroke-width="1.5"><line x1="672" y1="71.4" x2="672" y2="80.5"/><line x1="668.15" y1="71.4" x2="675.85" y2="71.4"/><line x1="668.15" y1="80.5" x2="675.85" y2="80.5"/></g><g stroke="#6a6a6a" stroke-width="1.5"><line x1="708" y1="34.8" x2="708" y2="50.3"/><line x1="704.15" y1="34.8" x2="711.85" y2="34.8"/><line x1="704.15" y1="50.3" x2="711.85" y2="50.3"/></g><circle cx="494" cy="269" r="4.05" fill="#FF0000"/><circle cx="529.7" cy="227.7" r="4.05" fill="#FF0000"/><circle cx="600.9" cy="183" r="4.05" fill="#FF0000"/><circle cx="636.5" cy="123.8" r="4.05" fill="#FF0000"/><circle cx="672" cy="76" r="4.05" fill="#FF0000"/><circle cx="708" cy="42.5" r="4.05" fill="#FF0000"/><line x1="493.9" y1="273.2" x2="706.1" y2="48.7" stroke="#0000FF" stroke-width="2.5" stroke-linecap="round" stroke-dasharray="0 4.6805"/></svg>
</body></html>
